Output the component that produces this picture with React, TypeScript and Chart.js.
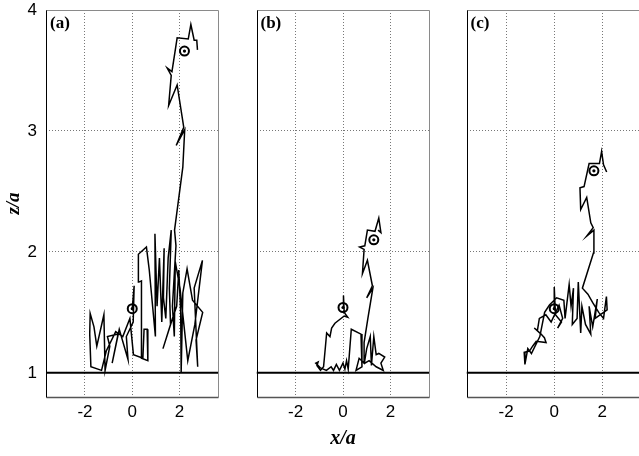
import React, { useEffect, useRef } from "react";
import { Chart, registerables } from "chart.js";
Chart.register(...registerables);

// ---- data ----
const xRange = [-3.65, 3.65];
const zRange = [0.8, 4];
const xTicks = [-2, 0, 2];
const zTicks = [1, 2, 3, 4];
const panelLabels = ["(a)", "(b)", "(c)"];
const wallZ = 1;

const trajA: [number, number][] = [
  [0.0, 1.53], [0.08, 1.72], [0.04, 1.42], [-0.25, 1.3], [-0.18, 1.11], [-0.55, 1.36], [-0.85, 1.08],
  [-0.6, 1.32], [-1.05, 1.3], [-0.95, 1.22], [-1.15, 1.02], [-1.2, 1.48], [-1.5, 1.22], [-1.62, 1.38],
  [-1.78, 1.49], [-1.8, 1.32], [-1.75, 1.05], [-1.3, 1.02], [-1.1, 1.18], [-0.7, 1.34], [-0.4, 1.3],
  [-0.1, 1.45], [0.05, 1.15], [0.45, 1.12], [0.5, 1.36], [0.63, 1.36], [0.66, 1.1], [0.4, 1.12],
  [0.38, 1.6], [0.4, 1.76], [0.28, 1.75], [0.26, 1.98], [0.6, 2.04], [0.72, 1.85], [0.98, 1.3],
  [0.96, 2.15], [1.05, 1.55], [1.15, 1.95], [1.25, 1.42], [1.35, 2.03], [1.32, 1.62], [1.42, 1.45],
  [1.52, 1.95], [1.65, 2.18], [1.57, 1.7], [1.62, 1.4], [1.3, 1.2], [1.72, 1.46], [1.88, 1.55],
  [1.97, 1.85], [2.05, 1.5], [2.07, 1.0], [2.14, 1.66], [2.32, 1.86], [2.55, 1.6], [2.98, 1.5],
  [2.7, 1.27], [2.77, 1.05], [2.62, 1.7], [2.97, 1.93], [2.65, 1.4], [2.35, 1.1], [2.02, 1.7],
  [1.82, 1.92], [1.78, 1.3], [1.7, 1.55], [1.85, 2.05], [1.79, 2.18], [2.14, 2.7], [2.22, 3.01],
  [1.86, 2.88], [2.18, 3.03], [1.9, 3.38], [1.54, 3.21], [1.65, 3.46], [1.48, 3.52], [1.68, 3.49],
  [1.9, 3.77], [2.37, 3.76], [2.48, 3.88], [2.62, 3.75], [2.73, 3.75], [2.76, 3.67],
];

const trajB: [number, number][] = [
  [0.0, 1.54], [0.02, 1.64], [0.05, 1.5], [0.2, 1.46], [0.05, 1.47], [-0.34, 1.41], [-0.48, 1.37],
  [-0.55, 1.3], [-0.69, 1.33], [-0.74, 1.22], [-0.82, 1.05], [-0.95, 1.02], [-1.1, 1.06], [-1.05, 1.09],
  [-1.15, 1.08], [-0.95, 1.04], [-0.7, 1.02], [-0.5, 1.05], [-0.4, 1.02], [-0.28, 1.07], [-0.15, 1.02],
  [0.0, 1.08], [0.08, 1.03], [0.15, 1.1], [0.22, 1.03], [0.35, 1.36], [0.76, 1.32], [0.8, 1.05],
  [0.55, 1.02], [0.68, 1.12], [0.9, 1.08], [1.0, 1.2], [1.15, 1.3], [1.2, 1.06], [1.3, 1.3],
  [1.4, 1.15], [1.51, 1.16], [1.76, 1.13], [1.6, 1.08], [1.7, 1.02], [1.4, 1.05], [1.1, 1.1],
  [0.92, 1.08], [0.89, 1.25], [1.05, 1.45], [1.26, 1.7], [1.0, 1.62], [1.24, 1.72], [1.03, 1.93],
  [0.82, 1.82], [0.89, 2.02], [0.7, 2.04], [0.92, 2.05], [1.03, 2.18], [1.35, 2.17], [1.51, 2.28],
  [1.6, 2.16], [1.48, 2.18],
];

const trajC: [number, number][] = [
  [0.0, 1.53], [0.0, 1.71], [0.05, 1.48], [0.3, 1.42], [0.14, 1.37], [0.35, 1.45], [0.2, 1.56],
  [-0.13, 1.42], [-0.35, 1.48], [-0.62, 1.45], [-0.7, 1.35], [-0.83, 1.37], [-0.55, 1.32], [-0.41, 1.29],
  [-0.34, 1.25], [-0.75, 1.26], [-0.9, 1.22], [-1.03, 1.18], [-1.25, 1.17], [-1.22, 1.07], [-1.1, 1.2],
  [-0.95, 1.16], [-0.6, 1.3], [-0.4, 1.5], [-0.2, 1.56], [0.1, 1.62], [0.4, 1.6], [0.45, 1.45],
  [0.62, 1.73], [0.7, 1.55], [0.8, 1.7], [0.75, 1.4], [0.95, 1.45], [1.0, 1.75], [1.1, 1.33],
  [1.15, 1.55], [1.3, 1.4], [1.52, 1.32], [1.45, 1.55], [1.6, 1.38], [1.79, 1.61], [1.7, 1.45],
  [2.2, 1.52], [2.17, 1.63], [2.05, 1.45], [1.85, 1.5], [1.6, 1.58], [1.4, 1.65], [1.17, 1.7],
  [1.63, 1.99], [1.65, 2.18], [1.35, 2.13], [1.62, 2.2], [1.52, 2.24], [1.35, 2.45], [1.1, 2.35],
  [1.07, 2.53], [1.24, 2.54], [1.45, 2.73], [1.88, 2.73], [1.97, 2.83], [2.05, 2.72], [2.18, 2.66],
];

const markersA: [number, number][] = [[0.0, 1.53], [2.21, 3.66]];
const markersB: [number, number][] = [[0.0, 1.54], [1.3, 2.1]];
const markersC: [number, number][] = [[0.0, 1.53], [1.65, 2.67]];

const trajectories = [trajA, trajB, trajC];
const markers = [markersA, markersB, markersC];

// ---- layout (styles, not data) ----
const panels = [
  { left: 0, width: 225, padL: 0, padR: 4, yWidth: 46, showY: true, xTitle: "" },
  { left: 250, width: 186, padL: 6, padR: 5, yWidth: 0, showY: false, xTitle: "x/a" },
  { left: 460, width: 190, padL: 6, padR: 8, yWidth: 0, showY: false, xTitle: "" },
];
const H = 456;

const framePlugin = {
  id: "frame",
  afterDatasetsDraw(chart: any, _args: any, opts: any) {
    const { ctx, chartArea } = chart;
    const { left, top, right, bottom } = chartArea;
    const L = Math.round(left) + 0.5;
    const T = Math.round(top) + 0.5;
    const R = Math.round(right) - 0.5;
    const B = Math.round(bottom) + 0.5;
    ctx.save();
    ctx.lineWidth = 1;
    ctx.strokeStyle = "#8a8a8a";
    ctx.beginPath();
    ctx.moveTo(L, T);
    ctx.lineTo(R, T);
    ctx.lineTo(R, B);
    ctx.stroke();
    ctx.strokeStyle = "#555";
    ctx.lineWidth = 1.5;
    ctx.beginPath();
    ctx.moveTo(L, B);
    ctx.lineTo(R, B);
    ctx.stroke();
    ctx.strokeStyle = "#000";
    ctx.lineWidth = 1;
    ctx.beginPath();
    ctx.moveTo(L, T);
    ctx.lineTo(L, B);
    ctx.stroke();
    if (opts && opts.label) {
      ctx.fillStyle = "#000";
      ctx.font = 'bold 17px "Liberation Serif", "DejaVu Serif", serif';
      ctx.textAlign = "left";
      ctx.textBaseline = "alphabetic";
      ctx.fillText(opts.label, left + 4, top + 18);
    }
    ctx.restore();
  },
};

function Panel({ idx }: { idx: number }) {
  const ref = useRef<HTMLCanvasElement | null>(null);
  const p = panels[idx];
  useEffect(() => {
    if (!ref.current) return;
    const toXY = (arr: [number, number][]) => arr.map(([x, y]) => ({ x, y }));
    const chart = new Chart(ref.current, {
      type: "scatter",
      data: {
        datasets: [
          {
            data: toXY(markers[idx]),
            pointRadius: 1.6,
            pointBackgroundColor: "#000",
            pointBorderWidth: 0,
            showLine: false,
            order: 0,
          } as any,
          {
            data: toXY(markers[idx]),
            pointRadius: 4.5,
            pointBackgroundColor: "rgba(0,0,0,0)",
            pointBorderColor: "#000",
            pointBorderWidth: 2,
            showLine: false,
            order: 1,
          } as any,
          {
            data: toXY(trajectories[idx]),
            showLine: true,
            borderColor: "#000",
            borderWidth: 1.5,
            pointRadius: 0,
            tension: 0,
            order: 2,
          } as any,
          {
            data: [
              { x: xRange[0], y: wallZ },
              { x: xRange[1], y: wallZ },
            ],
            showLine: true,
            borderColor: "#000",
            borderWidth: 2,
            pointRadius: 0,
            order: 3,
          } as any,
        ],
      },
      options: {
        animation: false,
        responsive: false,
        events: [],
        layout: { padding: { left: p.padL, right: p.padR, top: 10, bottom: 0 } },
        plugins: {
          legend: { display: false },
          tooltip: { enabled: false },
          frame: { label: panelLabels[idx] },
        } as any,
        scales: {
          x: {
            type: "linear",
            min: xRange[0],
            max: xRange[1],
            afterBuildTicks: (s: any) => {
              s.ticks = xTicks.map((v) => ({ value: v }));
            },
            afterFit: (s: any) => {
              s.height = 59;
              s.paddingLeft = 0;
              s.paddingRight = 0;
            },
            grid: { color: "#777", lineWidth: 1, drawTicks: false },
            border: { display: false, dash: [1, 2] },
            ticks: {
              color: "#000",
              padding: 5,
              maxRotation: 0,
              font: { family: '"Liberation Sans", Arial, sans-serif', size: 17 },
              callback: (v: any) => String(v),
            },
            title: {
              display: !!p.xTitle,
              text: p.xTitle,
              color: "#000",
              font: { family: '"Liberation Serif", "DejaVu Serif", serif', size: 20, style: "italic", weight: "bold" },
              padding: { top: 0, bottom: 5.5 },
            },
          },
          y: {
            type: "linear",
            min: zRange[0],
            max: zRange[1],
            afterBuildTicks: (s: any) => {
              s.ticks = zTicks.map((v) => ({ value: v }));
            },
            afterFit: (s: any) => {
              s.width = p.yWidth;
              s.paddingTop = 0;
              s.paddingBottom = 0;
            },
            grid: { color: "#777", lineWidth: 1, drawTicks: false },
            border: { display: false, dash: [1, 2] },
            ticks: {
              display: p.showY,
              color: "#000",
              padding: 9,
              font: { family: '"Liberation Sans", Arial, sans-serif', size: 17 },
              callback: (v: any) => String(v),
            },
            title: {
              display: p.showY,
              text: "z/a",
              color: "#000",
              font: { family: '"Liberation Serif", "DejaVu Serif", serif', size: 19, style: "italic", weight: "bold" },
              padding: { top: 3, bottom: 0 },
            },
          },
        },
      },
      plugins: [framePlugin],
    } as any);
    return () => chart.destroy();
  }, [idx]);
  return (
    <canvas
      ref={ref}
      width={p.width}
      height={H}
      style={{ position: "absolute", left: p.left, top: 0, width: p.width, height: H }}
    />
  );
}

export default function App() {
  return (
    <div
      style={{
        position: "absolute",
        left: 0,
        top: 0,
        width: 639,
        height: 456,
        overflow: "hidden",
        background: "#fff",
      }}
    >
      {panels.map((_, i) => (
        <Panel key={i} idx={i} />
      ))}
    </div>
  );
}
